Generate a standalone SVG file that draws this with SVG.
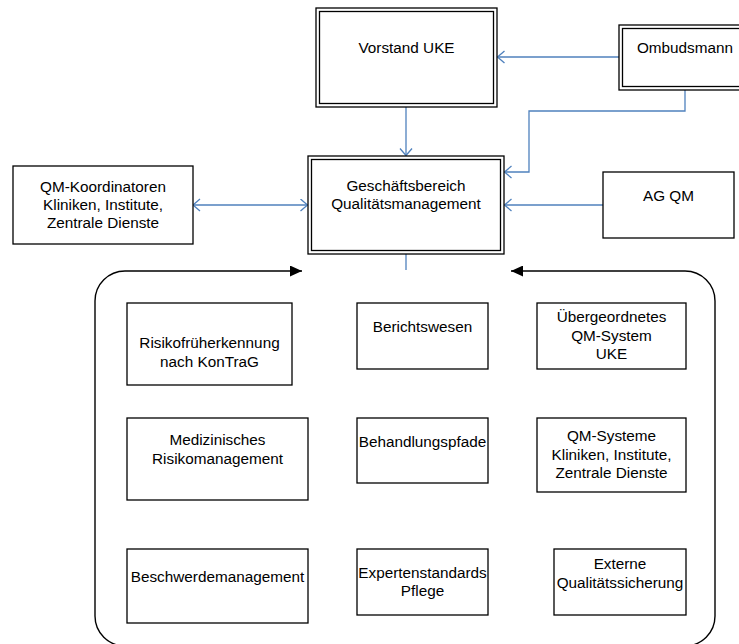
<svg xmlns="http://www.w3.org/2000/svg" width="739" height="644" viewBox="0 0 739 644">
<defs>
<style>
.box{fill:#fff;stroke:#000;stroke-width:1.3}
.t{font-family:"Liberation Sans",Arial,sans-serif;font-size:15.3px;fill:#000;text-anchor:middle}
.c{fill:none;stroke:#4F81BD;stroke-width:1.3}
.k{fill:none;stroke:#000;stroke-width:1.4}
</style>
<marker id="oa" markerUnits="userSpaceOnUse" markerWidth="10" markerHeight="14" refX="7.5" refY="6.5" orient="auto-start-reverse" viewBox="0 0 10 14">
<path d="M0.5,0.5 L7.5,6.5 L0.5,12.5" fill="none" stroke="#4F81BD" stroke-width="1.3"/>
</marker>
<marker id="fa" markerUnits="userSpaceOnUse" markerWidth="13" markerHeight="11" refX="12" refY="5.5" orient="auto" viewBox="0 0 13 11">
<path d="M0,0 L12,5.5 L0,11 z" fill="#000"/>
</marker>
</defs>
<rect width="739" height="644" fill="#fff"/>

<g id="cycle">
<path class="k" d="M406,646 H125 A30,30 0 0 1 95,616 V301 A30,30 0 0 1 125,271 H302" marker-end="url(#fa)"/>
<path class="k" d="M406,646 H685 A30,30 0 0 0 715,616 V301 A30,30 0 0 0 685,271 H511" marker-end="url(#fa)"/>
</g>

<g id="connectors">
<path class="c" d="M619,57 H497.5" marker-end="url(#oa)"/>
<path class="c" d="M685,90 V111 H529 V172 H504.5" marker-end="url(#oa)"/>
<path class="c" d="M406,107 V155.5" marker-end="url(#oa)"/>
<path class="c" d="M603,205 H504.5" marker-end="url(#oa)"/>
<path class="c" d="M193,205 H307.5" marker-start="url(#oa)" marker-end="url(#oa)"/>
<path class="c" d="M406,254 V270"/>
</g>

<g id="vorstand">
<rect class="box" x="316" y="8" width="181" height="99"/>
<rect class="box" x="319.5" y="11.5" width="174" height="92"/>
<text class="t" x="406.5" y="53">Vorstand UKE</text>
</g>

<g id="ombudsmann">
<rect class="box" x="619" y="25" width="133" height="65"/>
<rect class="box" x="622.5" y="28.5" width="126" height="58"/>
<text class="t" x="685" y="53">Ombudsmann</text>
</g>

<g id="geschaeftsbereich">
<rect class="box" x="308" y="156" width="196" height="98"/>
<rect class="box" x="311.5" y="159.5" width="189" height="91"/>
<text class="t" x="406" y="191">Geschäftsbereich</text>
<text class="t" x="406" y="209">Qualitätsmanagement</text>
</g>

<g id="qmkoord">
<rect class="box" x="13" y="166" width="180" height="78"/>
<text class="t" x="103" y="192">QM-Koordinatoren</text>
<text class="t" x="103" y="210">Kliniken, Institute,</text>
<text class="t" x="103" y="228">Zentrale Dienste</text>
</g>

<g id="agqm">
<rect class="box" x="603" y="172" width="131" height="66"/>
<text class="t" x="668.5" y="201">AG QM</text>
</g>

<g id="risiko">
<rect class="box" x="127" y="303" width="165" height="82"/>
<text class="t" x="209.5" y="348">Risikofrüherkennung</text>
<text class="t" x="209.5" y="367">nach KonTraG</text>
</g>

<g id="bericht">
<rect class="box" x="357" y="303" width="131" height="66"/>
<text class="t" x="422.5" y="332">Berichtswesen</text>
</g>

<g id="uebergeordnet">
<rect class="box" x="537" y="303" width="149" height="66"/>
<text class="t" x="611.5" y="322">Übergeordnetes</text>
<text class="t" x="611.5" y="341">QM-System</text>
<text class="t" x="611.5" y="359">UKE</text>
</g>

<g id="medizin">
<rect class="box" x="127" y="418" width="181" height="82"/>
<text class="t" x="217.5" y="445">Medizinisches</text>
<text class="t" x="217.5" y="464">Risikomanagement</text>
</g>

<g id="behandlung">
<rect class="box" x="357" y="418" width="131" height="65"/>
<text class="t" x="422.5" y="447">Behandlungspfade</text>
</g>

<g id="qmsysteme">
<rect class="box" x="537" y="418" width="149" height="74"/>
<text class="t" x="611.5" y="441">QM-Systeme</text>
<text class="t" x="611.5" y="460">Kliniken, Institute,</text>
<text class="t" x="611.5" y="478">Zentrale Dienste</text>
</g>

<g id="beschwerde">
<rect class="box" x="127" y="549" width="181" height="74"/>
<text class="t" x="217.5" y="582">Beschwerdemanagement</text>
</g>

<g id="experten">
<rect class="box" x="357" y="549" width="131" height="66"/>
<text class="t" x="422.5" y="578">Expertenstandards</text>
<text class="t" x="422.5" y="596">Pflege</text>
</g>

<g id="extern">
<rect class="box" x="554" y="549" width="132" height="66"/>
<text class="t" x="620" y="569">Externe</text>
<text class="t" x="620" y="588">Qualitätssicherung</text>
</g>
</svg>
